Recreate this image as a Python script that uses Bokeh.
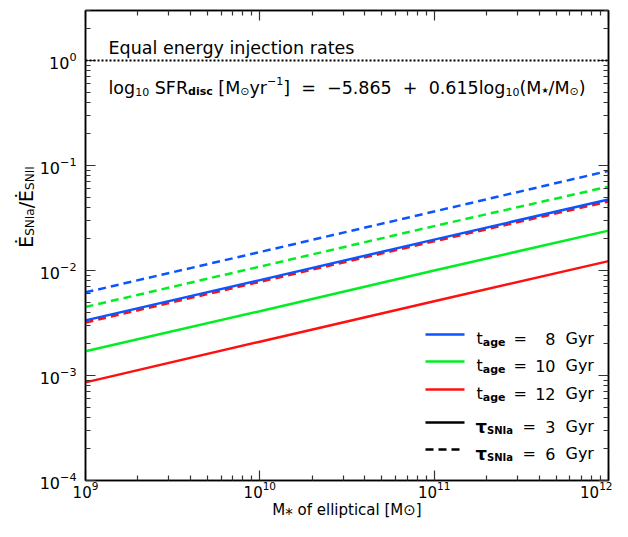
import glob
import math
from bokeh.plotting import figure
from bokeh.layouts import row
from bokeh.models import Label, Span, Arrow, LogAxis, FixedTicker, LogTickFormatter, Range1d
from bokeh.embed import file_html
from bokeh.resources import INLINE

# ---------------- data ----------------
mass = [1e9, 1e10, 1e11, 1e12]                      # stellar mass of elliptical [Msun]
t8_tau3 = [3.35e-3, 8.1e-3, 1.97e-2, 4.75e-2]
t10_tau3 = [1.70e-3, 4.1e-3, 1.00e-2, 2.40e-2]
t12_tau3 = [8.6e-4, 2.1e-3, 5.1e-3, 1.23e-2]
t8_tau6 = [6.2e-3, 1.50e-2, 3.65e-2, 8.9e-2]
t10_tau6 = [4.5e-3, 1.09e-2, 2.65e-2, 6.3e-2]
t12_tau6 = [3.2e-3, 7.8e-3, 1.90e-2, 4.55e-2]
equal_level = 1.0
x_major = [1e9, 1e10, 1e11, 1e12]
y_major = [1e-4, 1e-3, 1e-2, 1e-1, 1e0]
age_labels = ["8", "10", "12"]
tau_labels = ["3", "6"]

BLUE = "#0a55ff"
GREEN = "#00ee22"
RED = "#ff1010"
FONT = "DejaVu Sans"
NB = "\u00a0"

# ---------------- text measurement helper ----------------
def _font_file(bold):
    name = "DejaVuSans-Bold.ttf" if bold else "DejaVuSans.ttf"
    hits = glob.glob("/usr/share/fonts/**/" + name, recursive=True)
    return hits[0] if hits else None

try:
    from PIL import ImageFont
    _FF = {False: _font_file(False), True: _font_file(True)}
except Exception:
    ImageFont = None
    _FF = {False: None, True: None}

def tw(s, size, bold=False):
    try:
        f = ImageFont.truetype(_FF[bold], size)
        return f.getlength(s)
    except Exception:
        return len(s) * size * 0.6

# ---------------- layout geometry (picture px) ----------------
TOTAL_H = 521
YFIG_W = 36
FRAME_LEFT_IMG = 83
FRAME_BOTTOM_IMG = 485

# narrow figure carrying the y-axis title (so its text is not clipped)
yfig = figure(width=YFIG_W, height=TOTAL_H, x_range=Range1d(0, 1), y_range=Range1d(0, 1),
              output_backend="svg", toolbar_location=None,
              x_axis_location=None, y_axis_location=None,
              min_border=0, min_border_left=0, min_border_right=0,
              min_border_top=0, min_border_bottom=0)
yfig.xgrid.visible = False
yfig.ygrid.visible = False
yfig.outline_line_color = None

# main figure
p = figure(width=612 - YFIG_W, height=TOTAL_H, x_axis_type="log", y_axis_type="log",
           x_range=Range1d(1e9, 1e12), y_range=Range1d(1e-4, 3.0),
           output_backend="svg", toolbar_location=None,
           min_border_left=FRAME_LEFT_IMG - YFIG_W, min_border_right=4,
           min_border_top=10, min_border_bottom=TOTAL_H - FRAME_BOTTOM_IMG)
p.xgrid.visible = False
p.ygrid.visible = False
p.outline_line_color = "black"
p.outline_line_width = 1.5

xminor = [k * d for d in x_major[:-1] for k in range(2, 10)]
yminor = [k * d for d in y_major for k in range(2, 10)]

def style_axis(ax, labels=True):
    ax.major_tick_in = 10
    ax.major_tick_out = 0
    ax.minor_tick_in = 5
    ax.minor_tick_out = 0
    ax.axis_line_color = "black"
    ax.axis_line_width = 1.5
    ax.major_tick_line_color = "#333333"
    ax.minor_tick_line_color = "#333333"
    ax.major_tick_line_width = 1.2
    ax.minor_tick_line_width = 1.2
    if labels:
        ax.major_label_text_font = FONT
        ax.major_label_text_font_size = "16px"
        ax.major_label_text_color = "black"
    else:
        ax.major_label_text_font_size = "0px"
        ax.major_label_text_color = None
        ax.major_label_standoff = 0

p.xaxis.ticker = FixedTicker(ticks=x_major, minor_ticks=xminor)
p.yaxis.ticker = FixedTicker(ticks=y_major, minor_ticks=yminor)
p.xaxis.formatter = LogTickFormatter()
p.yaxis.formatter = LogTickFormatter()
style_axis(p.xaxis[0])
style_axis(p.yaxis[0])
p.xaxis.major_label_text_font_size = "15px"
p.xaxis.major_label_standoff = 0
p.yaxis.major_label_standoff = 9
p.xaxis.axis_label = "M\u204e of elliptical [M\u2299]"
p.xaxis.axis_label_text_font = FONT
p.xaxis.axis_label_text_font_size = "15px"
p.xaxis.axis_label_text_font_style = "normal"
p.xaxis.axis_label_text_color = "black"
p.xaxis.axis_label_standoff = 0

top = LogAxis(ticker=FixedTicker(ticks=x_major, minor_ticks=xminor))
right = LogAxis(ticker=FixedTicker(ticks=y_major, minor_ticks=yminor))
style_axis(top, labels=False)
style_axis(right, labels=False)
p.add_layout(top, "above")
p.add_layout(right, "right")

# ---------------- data lines ----------------
p.add_layout(Span(location=equal_level, dimension="width", line_color="black",
                  line_width=2, line_dash="2 2"))
DASH = "8 5"
for ys, c in [(t8_tau6, BLUE), (t10_tau6, GREEN), (t12_tau6, RED)]:
    p.line(mass, ys, line_color=c, line_width=2.5, line_dash=DASH)
for ys, c in [(t12_tau3, RED), (t10_tau3, GREEN), (t8_tau3, BLUE)]:
    p.line(mass, ys, line_color=c, line_width=2.5)

# ---------------- text helpers (screen units relative to the frame) ----------------
def sx(img_x):
    return img_x - FRAME_LEFT_IMG

def sy(img_y):
    return FRAME_BOTTOM_IMG - img_y

def lab(fig, text, x, y, size, bold=False, align="left", angle=0.0):
    fig.add_layout(Label(x=x, y=y, x_units="screen", y_units="screen", text=text,
                         text_font=FONT, text_font_size=f"{size}px",
                         text_font_style="bold" if bold else "normal",
                         text_color="black", text_align=align,
                         text_baseline="alphabetic", angle=angle, angle_units="deg"))

def run(fig, segs, x0, y0, rotate=False):
    """segs: (text, size, bold, shift)"""
    pos = 0.0
    for text, size, bold, shift in segs:
        if rotate:
            lab(fig, text, x0 - shift, y0 + pos, size, bold, angle=90)
        else:
            lab(fig, text, x0 + pos, y0 + shift, size, bold)
        pos += tw(text, size, bold)
    return pos

def run_width(segs):
    return sum(tw(t, s, b) for t, s, b, _ in segs)

# annotations in the upper part of the frame
run(p, [("Equal energy injection rates", 17.5, False, 0)], sx(106), sy(52))
BS, SS = 17.5, 11
sp = NB + NB
formula = [
    ("log", BS, False, 0), ("10", SS, False, -4), (NB + "SFR", BS, False, 0),
    ("disc", SS, True, -4), (NB + "[M", BS, False, 0), ("⊙", SS, False, -4),
    ("yr", BS, False, 0), ("−1", SS, False, 7),
    ("]" + sp + "=" + sp + "−5.865" + sp + "+" + sp + "0.615log", BS, False, 0),
    ("10", SS, False, -4), ("(M", BS, False, 0), ("★", 8, False, -3),
    ("/M", BS, False, 0), ("⊙", SS, False, -4), (")", BS, False, 0),
]
run(p, formula, sx(106), sy(92))

# y-axis title in the narrow figure (its frame is the whole canvas)
ylab = [("Ė", 19, False, 0), ("SNIa", 12, False, -4), ("/", 19, False, 0),
        ("Ė", 19, False, 0), ("SNII", 12, False, -4)]
w = run_width(ylab)
run(yfig, ylab, 25, (TOTAL_H - 247.5) - w / 2, rotate=True)

# ---------------- legend ----------------
LX0, LX1 = 423, 462
rows_age = [339, 366, 394]
rows_tau = [427, 454]
for yy, c, num in zip(rows_age, [BLUE, GREEN, RED], age_labels):
    p.add_layout(Arrow(end=None, x_start=sx(LX0), y_start=sy(yy), x_end=sx(LX1), y_end=sy(yy),
                       start_units="screen", end_units="screen", line_color=c, line_width=2.5))
    run(p, [("t", 16, False, 0), ("age", 11, True, -4)], sx(474), sy(yy + 4))
    lab(p, "=", sx(511), sy(yy + 4), 16)
    lab(p, num, sx(553), sy(yy + 4), 16, align="right")
    lab(p, "Gyr", sx(563), sy(yy + 4), 16)
for yy, dash, num in zip(rows_tau, ["solid", DASH], tau_labels):
    p.add_layout(Arrow(end=None, x_start=sx(LX0), y_start=sy(yy), x_end=sx(LX1), y_end=sy(yy),
                       start_units="screen", end_units="screen", line_color="black",
                       line_width=2.5, line_dash=dash))
    run(p, [("τ", 18, True, 0), ("SNIa", 10, True, -4)], sx(473), sy(yy + 4))
    lab(p, "=", sx(520), sy(yy + 4), 16)
    lab(p, num, sx(553), sy(yy + 4), 16, align="right")
    lab(p, "Gyr", sx(563), sy(yy + 4), 16)

layout = row(yfig, p, spacing=0)
open("out.html", "w").write(file_html(layout, INLINE))
